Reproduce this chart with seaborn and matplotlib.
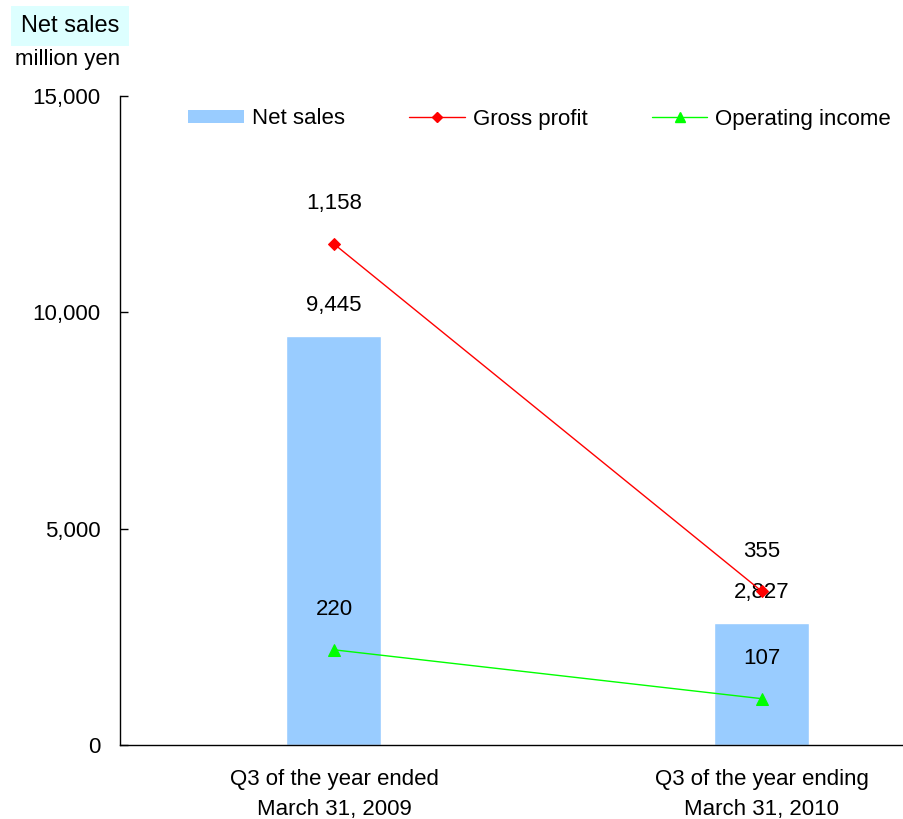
import numpy as np
import pandas as pd
import matplotlib
matplotlib.use("Agg")
import matplotlib.pyplot as plt
from matplotlib.lines import Line2D
from matplotlib.patches import Patch
import seaborn as sns

sns.set_style("white")
plt.rcParams["font.family"] = ["Liberation Sans", "DejaVu Sans"]
plt.rcParams["text.color"] = "black"
plt.rcParams["xtick.color"] = "black"
plt.rcParams["ytick.color"] = "black"

categories = ["Q3 of the year ended\nMarch 31, 2009", "Q3 of the year ending\nMarch 31, 2010"]
net_sales = [9445, 2827]
gross_profit = [1158, 355]
operating_income = [220, 107]
y_ticks = [0, 5000, 10000, 15000]

FS = 16
fig = plt.figure(figsize=(9.04, 8.19), dpi=100)
ax = fig.add_axes([120 / 904, 74 / 819, 784 / 904, 649 / 819])

df = pd.DataFrame({"period": categories, "net_sales": net_sales})
sns.barplot(data=df, x="period", y="net_sales", color="#99CCFF", saturation=1,
            width=0.222, ax=ax)
ax.set_xlim(-0.5, 1.332)
ax.set_ylim(0, 15000)
ax.set_yticks(y_ticks)
ax.set_yticklabels([f"{v:,}" for v in y_ticks], fontsize=FS)
ax.tick_params(axis="y", direction="in", length=6, width=1, pad=14, left=True)
ax.tick_params(axis="x", length=0, pad=17, labelsize=FS)
ax.set_xlabel("")
ax.set_ylabel("")
for s in ["top", "right"]:
    ax.spines[s].set_visible(False)
for s in ["left", "bottom"]:
    ax.spines[s].set_color("black")
    ax.spines[s].set_linewidth(1)
for lbl in ax.get_xticklabels():
    lbl.set_linespacing(1.6)

xpos = np.arange(len(categories))
for x, v in zip(xpos, net_sales):
    ax.annotate(f"{v:,}", (x, v), xytext=(0, 22), textcoords="offset points",
                ha="center", va="center", fontsize=FS)

# secondary scale for profits (hidden)
ax2 = ax.twinx()
ax2.set_ylim(0, 1500)
sns.lineplot(x=xpos, y=gross_profit, color="#FF0000", marker="D", markersize=6,
             markeredgecolor="#FF0000", linewidth=1, ax=ax2)
sns.lineplot(x=xpos, y=operating_income, color="#00FF00", marker="^", markersize=8,
             markeredgecolor="#00FF00", linewidth=1, ax=ax2)
ax2.set_axis_off()
for x, v in zip(xpos, gross_profit):
    ax2.annotate(f"{v:,}", (x, v), xytext=(0, 29), textcoords="offset points",
                 ha="center", va="center", fontsize=FS)
for x, v in zip(xpos, operating_income):
    ax2.annotate(f"{v:,}", (x, v), xytext=(0, 29), textcoords="offset points",
                 ha="center", va="center", fontsize=FS)
ax.set_xlim(-0.5, 1.332)

handles = [
    Patch(facecolor="#99CCFF", edgecolor="none", label="Net sales"),
    Line2D([], [], color="#FF0000", marker="D", markersize=5, linewidth=1, label="Gross profit"),
    Line2D([], [], color="#00FF00", marker="^", markersize=7, linewidth=1, label="Operating income"),
]
fig.legend(handles=handles, ncol=3, loc="center left", bbox_to_anchor=(188 / 904, 1 - 119 / 819),
           frameon=False, fontsize=FS, handlelength=2.5, handleheight=0.5,
           handletextpad=0.36, columnspacing=2.9, borderaxespad=0, borderpad=0)

fig.text(70 / 904, 1 - 26 / 819, "Net sales", ha="center", va="center", fontsize=FS + 1,
         bbox=dict(facecolor="#DDFFFF", edgecolor="none", boxstyle="square,pad=0.4"))
fig.text(68 / 904, 1 - 60 / 819, "million yen", ha="center", va="center", fontsize=FS)

fig.savefig("out.png", dpi=100)
